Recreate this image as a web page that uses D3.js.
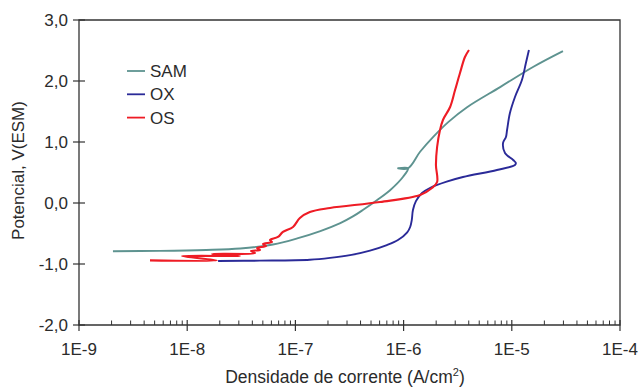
<!DOCTYPE html>
<html>
<head>
<meta charset="utf-8">
<script src="https://cdn.jsdelivr.net/npm/d3@7"></script>
<style>
  body { margin: 0; background: #fff; }
  text { font-family: "Liberation Sans", Arial, sans-serif; fill: #2b2b2b; }
</style>
</head>
<body>
<div id="chart"></div>
<script>
// current density (A/cm2), potential V(ESM)
const samData = [
  [2.06e-9, -0.79], [5.6e-9, -0.785], [1.5e-8, -0.77], [3.1e-8, -0.745], [6.2e-8, -0.68],
  [1.04e-7, -0.58], [1.7e-7, -0.46], [2.6e-7, -0.33], [3.4e-7, -0.22], [4.2e-7, -0.115],
  [5.7e-7, 0.05], [7.5e-7, 0.21], [9.9e-7, 0.43], [1.10e-6, 0.57], [8.9e-7, 0.57],
  [1.10e-6, 0.57], [1.42e-6, 0.84], [1.87e-6, 1.08], [2.6e-6, 1.33], [3.86e-6, 1.57],
  [7.8e-6, 1.90], [1.57e-5, 2.23], [2.97e-5, 2.49]
];
const oxData = [
  [1.93e-8, -0.95], [4.7e-8, -0.945], [1.36e-7, -0.93], [2.09e-7, -0.9], [3.3e-7, -0.85],
  [4.89e-7, -0.78], [7e-7, -0.69], [8.87e-7, -0.607], [1.08e-6, -0.48], [1.15e-6, -0.393],
  [1.19e-6, -0.28], [1.22e-6, -0.115], [1.3e-6, 0.03], [1.48e-6, 0.164], [1.75e-6, 0.246],
  [2.5e-6, 0.35], [3.54e-6, 0.426], [7.29e-6, 0.541], [1.07e-5, 0.623], [1.09e-5, 0.656],
  [1.03e-5, 0.705], [8.65e-6, 0.82], [8.3e-6, 0.984], [8.83e-6, 1.082], [9.04e-6, 1.197],
  [9.61e-6, 1.475], [1.07e-5, 1.738], [1.24e-5, 2.016], [1.35e-5, 2.295], [1.44e-5, 2.508]
];
const osData = [
  [4.53e-9, -0.94], [1.88e-8, -0.94], [8.95e-9, -0.87], [3.08e-8, -0.87], [1.69e-8, -0.836],
  [4.24e-8, -0.82], [3.89e-8, -0.787], [4.71e-8, -0.77], [4.42e-8, -0.738], [5.35e-8, -0.705],
  [5.02e-8, -0.672], [6.08e-8, -0.639], [5.82e-8, -0.607], [6.9e-8, -0.557], [7.67e-8, -0.475],
  [9.51e-8, -0.393], [1.10e-7, -0.246], [1.36e-7, -0.148], [2.09e-7, -0.082], [6.05e-7, 0.016],
  [1.42e-6, 0.131], [1.83e-6, 0.246], [2.04e-6, 0.344], [1.99e-6, 0.623], [2.04e-6, 0.918],
  [2.17e-6, 1.197], [2.31e-6, 1.361], [2.69e-6, 1.574], [2.99e-6, 1.852], [3.32e-6, 2.131],
  [3.69e-6, 2.393], [4.02e-6, 2.508]
];
const seriesNames = ["SAM", "OX", "OS"];
const seriesColors = ["#5e9390", "#2a2a98", "#ee1c25"];
const xTicks = [1e-9, 1e-8, 1e-7, 1e-6, 1e-5, 1e-4];
const xTickLabels = ["1E-9", "1E-8", "1E-7", "1E-6", "1E-5", "1E-4"];
const yTicks = [-2, -1, 0, 1, 2, 3];

const width = 643, height = 388;
const margin = { left: 79, right: 23, top: 20, bottom: 63 };
const svg = d3.select("#chart").append("svg")
  .attr("width", width).attr("height", height);

const x = d3.scaleLog().domain([1e-9, 1e-4]).range([margin.left, width - margin.right]);
const y = d3.scaleLinear().domain([-2, 3]).range([height - margin.bottom, margin.top]);
const axisColor = "#333";

// frame
svg.append("path")
  .attr("d", "M" + x(1e-9) + "," + y(3) + "H" + x(1e-4) + "V" + y(-2) + "H" + x(1e-9) + "Z")
  .attr("fill", "none").attr("stroke", axisColor).attr("stroke-width", 1.3);

// y ticks (crossing the axis)
const yt = svg.append("g");
yt.selectAll("line").data(yTicks).enter().append("line")
  .attr("x1", x(1e-9) - 6).attr("x2", x(1e-9) + 6)
  .attr("y1", d => y(d)).attr("y2", d => y(d))
  .attr("stroke", axisColor).attr("stroke-width", 1.2);
yt.selectAll("text").data(yTicks).enter().append("text")
  .attr("x", x(1e-9) - 11).attr("y", d => y(d)).attr("dy", "0.36em")
  .attr("text-anchor", "end").style("font-size", "17px")
  .text(d => d3.format(".1f")(d).replace(".", ",").replace("−", "-"));

// x major ticks
const xt = svg.append("g");
xt.selectAll("line").data(xTicks).enter().append("line")
  .attr("x1", d => x(d)).attr("x2", d => x(d))
  .attr("y1", y(-2) - 5).attr("y2", y(-2) + 6)
  .attr("stroke", axisColor).attr("stroke-width", 1.2);
xt.selectAll("text").data(xTicks).enter().append("text")
  .attr("x", d => x(d)).attr("y", y(-2) + 30)
  .attr("text-anchor", "middle").style("font-size", "17px")
  .text((d, i) => xTickLabels[i]);

// x minor ticks (inside)
const minor = [];
xTicks.slice(0, -1).forEach(t => { for (let k = 2; k <= 9; k++) minor.push(t * k); });
svg.append("g").selectAll("line").data(minor).enter().append("line")
  .attr("x1", d => x(d)).attr("x2", d => x(d))
  .attr("y1", y(-2) - 4.5).attr("y2", y(-2))
  .attr("stroke", axisColor).attr("stroke-width", 1);

// curves
const line = d3.line().x(d => x(d[0])).y(d => y(d[1])).curve(d3.curveCatmullRom.alpha(0.5));
const allData = [samData, oxData, osData];
svg.append("g").selectAll("path").data(allData).enter().append("path")
  .attr("d", line)
  .attr("fill", "none")
  .attr("stroke", (d, i) => seriesColors[i])
  .attr("stroke-width", (d, i) => i === 2 ? 2.1 : 1.9)
  .attr("stroke-linejoin", "round");

// legend
const lg = svg.append("g");
seriesNames.forEach((name, i) => {
  const ly = 71 + i * 23.3;
  lg.append("line").attr("x1", 127).attr("x2", 145).attr("y1", ly).attr("y2", ly)
    .attr("stroke", seriesColors[i]).attr("stroke-width", 1.8);
  lg.append("text").attr("x", 150).attr("y", ly).attr("dy", "0.36em")
    .style("font-size", "17px").text(name);
});

// axis titles
const xl = svg.append("text")
  .attr("x", 345).attr("y", 383)
  .attr("text-anchor", "middle").style("font-size", "17.5px");
xl.append("tspan").text("Densidade de corrente (A/cm");
xl.append("tspan").attr("dy", "-7").style("font-size", "11px").text("2");
xl.append("tspan").attr("dy", "7").text(")");

svg.append("text")
  .attr("transform", "translate(24," + (y(0.5) - 2) + ") rotate(-90)")
  .attr("text-anchor", "middle").style("font-size", "17px")
  .text("Potencial, V(ESM)");
</script>
</body>
</html>
